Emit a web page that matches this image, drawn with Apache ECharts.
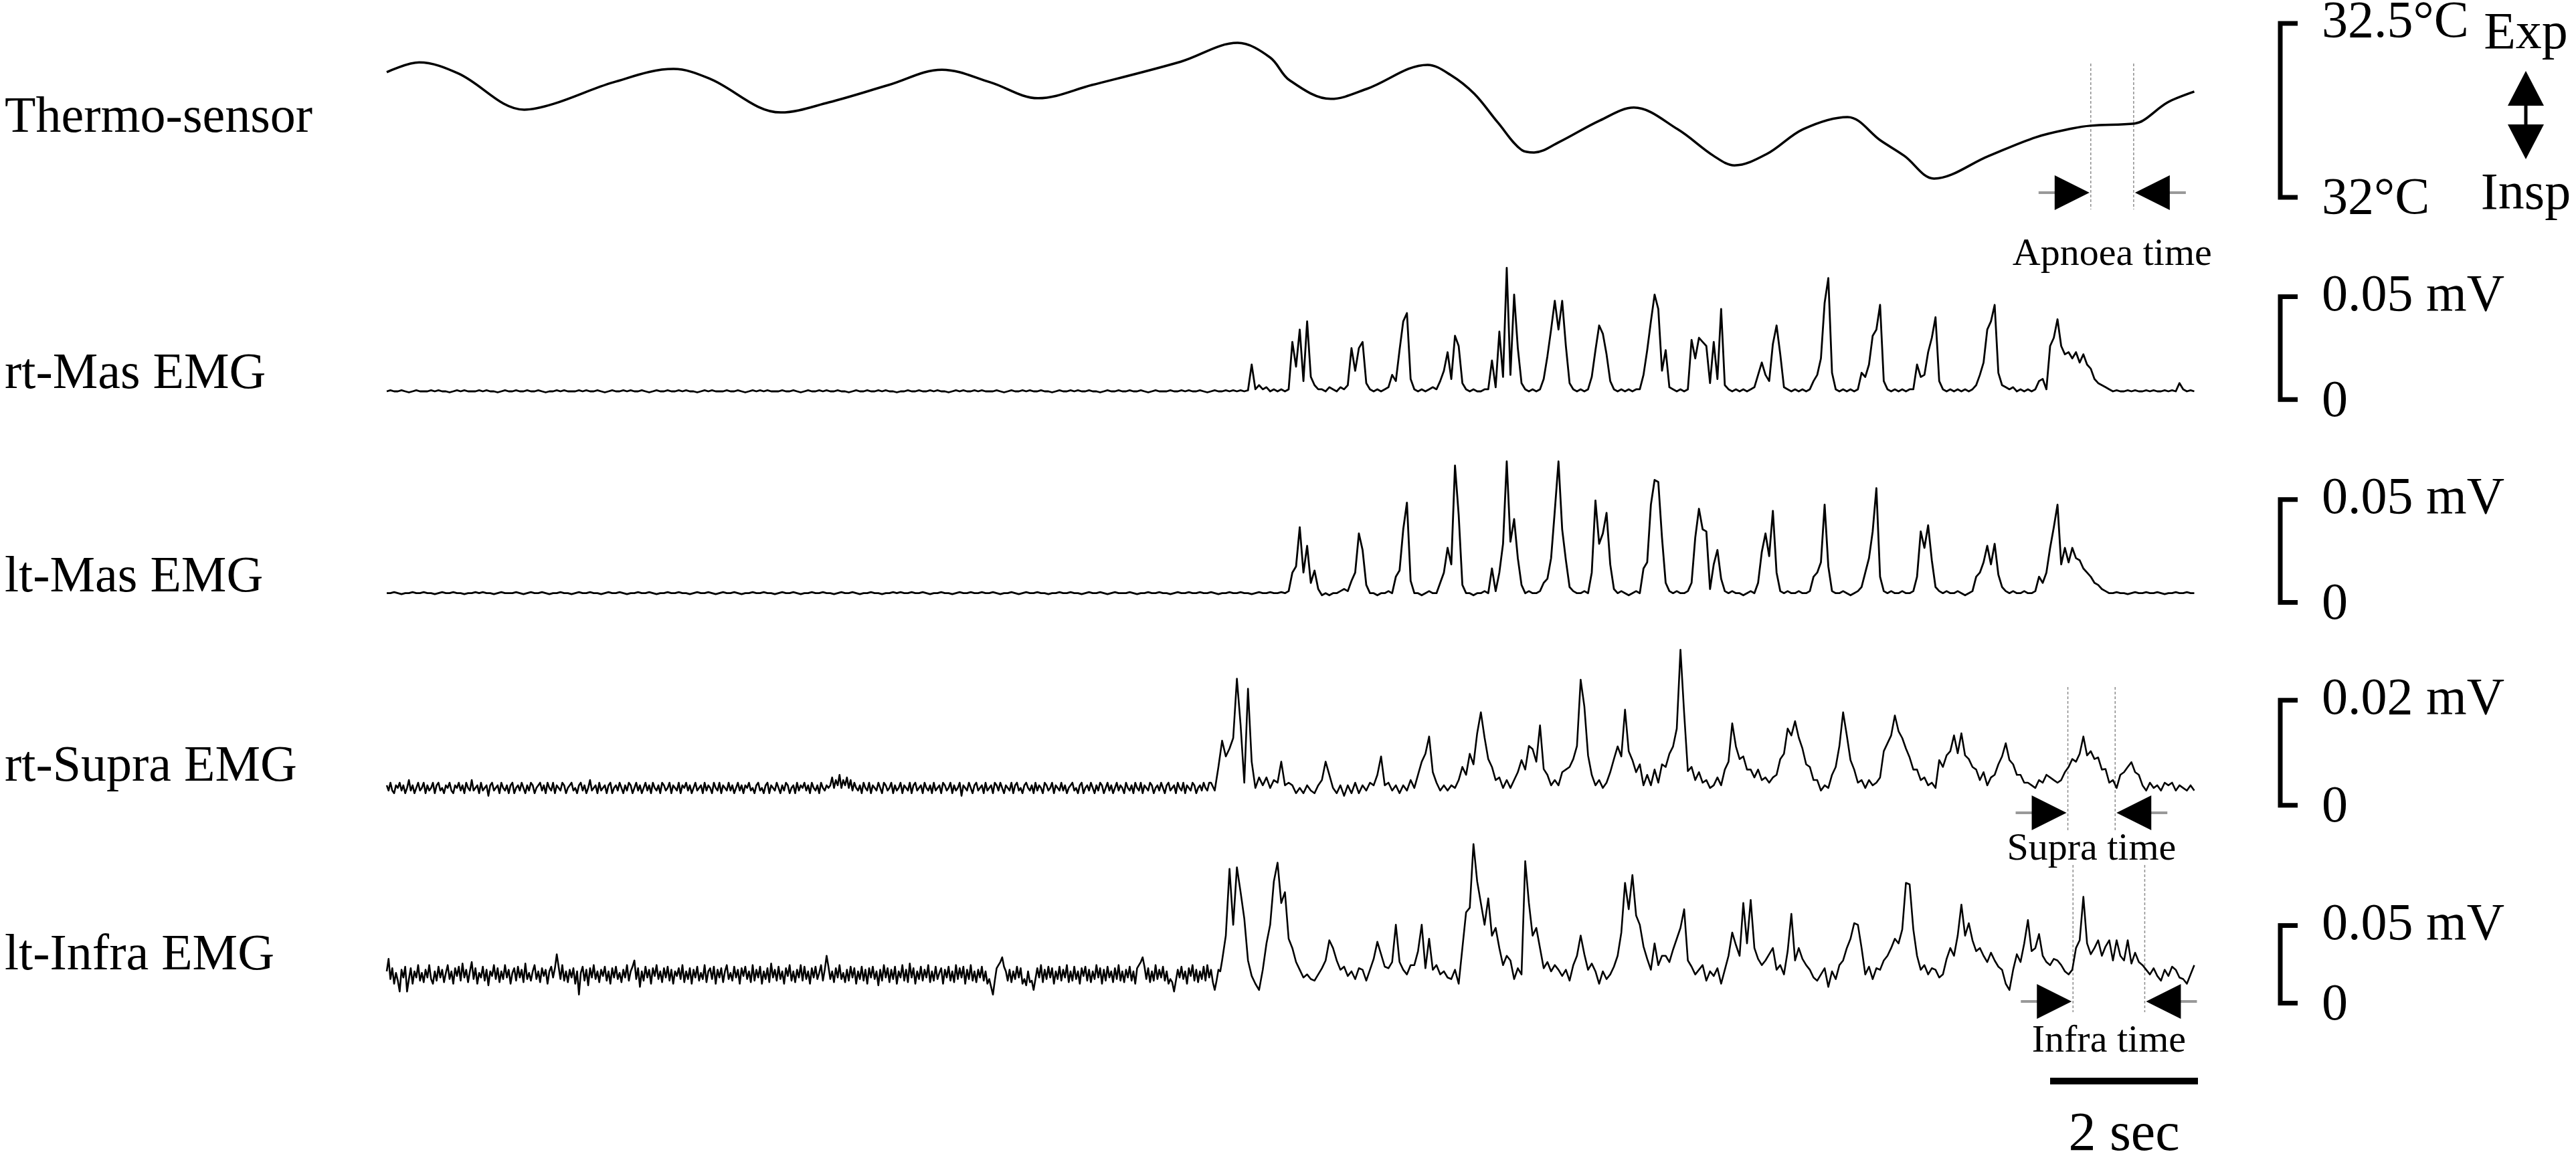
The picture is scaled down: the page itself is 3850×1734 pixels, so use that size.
<!DOCTYPE html>
<html>
<head>
<meta charset="utf-8">
<title>Thermo-sensor and EMG recording</title>
<script src="https://cdn.jsdelivr.net/npm/echarts@6/dist/echarts.min.js"></script>
<style>
html, body { margin: 0; padding: 0; background: #fff; }
#chart { width: 3850px; height: 1734px; }
</style>
</head>
<body>
<div id="chart"></div>
<script>
// sampling steps (sec) and shown time window
var DT = 0.05;        // masseter records, active part of supra/infra
var REST_DT = 0.025;  // resting part of supra/infra (finer, noisy)
var T_MAX = 24.5;

var traceNames = ['Thermo-sensor', 'rt-Mas EMG', 'lt-Mas EMG', 'rt-Supra EMG', 'lt-Infra EMG'];

// thermo-sensor : time (sec) / temperature (°C)
var thermoT = [0.00, 0.44, 0.97, 1.86, 2.26, 3.07, 3.88, 4.36, 5.33, 5.98, 6.79, 7.51, 8.16, 8.81, 9.54, 10.74,
  11.51, 11.95, 12.21, 12.77, 13.26, 14.08, 14.39, 14.71, 15.03, 15.36, 15.52, 15.85, 16.41, 16.87, 17.46,
  17.95, 18.23, 18.67, 19.16, 19.76, 20.21, 20.53, 20.93, 21.67, 22.31, 22.80, 23.05, 23.64, 23.76, 24.09, 24.45];
var thermoV = [32.360, 32.388, 32.356, 32.252, 32.269, 32.331, 32.369, 32.342, 32.244, 32.273, 32.323, 32.367,
  32.331, 32.285, 32.323, 32.390, 32.444, 32.402, 32.337, 32.283, 32.312, 32.381, 32.352, 32.298, 32.215,
  32.135, 32.129, 32.158, 32.221, 32.258, 32.196, 32.119, 32.092, 32.125, 32.196, 32.231, 32.163, 32.119,
  32.054, 32.119, 32.173, 32.198, 32.206, 32.212, 32.221, 32.273, 32.304];

// EMG amplitude in µV
var rtMas = [
  0,.5,0,0,.5,0,-.5,0,.5,0, 0,0,.5,0,.5,0,0,-.5,0,.5, 0,.5,0,0,0,.5,0,.5,0,0, -.5,0,.5,0,0,.5,0,0,.5,0,
  0,.5,0,-.5,0,0,.5,0,.5,0, 0,0,.5,0,.5,0,0,.5,0,-.5, 0,.5,0,0,.5,0,.5,0,0,.5, 0,-.5,0,.5,0,0,.5,0,0,.5,
  0,.5,0,0,-.5,0,.5,0,.5,0, 0,0,.5,0,0,.5,0,-.5,0,.5, 0,.5,0,.5,0,0,0,.5,0,0, .5,0,-.5,0,.5,0,0,.5,0,.5,
  0,0,.5,0,0,-.5,0,.5,0,0, .5,0,0,.5,0,.5,0,0,-.5,0, 0,.5,0,0,.5,0,0,.5,0,.5, 0,0,-.5,0,.5,0,.5,0,0,.5,
  0,.5,0,0,0,.5,0,-.5,0,.5, 0,0,.5,0,.5,0,0,.5,0,0, -.5,0,.5,0,0,.5,0,.5,0,0, .5,0,0,-.5,0,.5,0,0,.5,0,
  0,.5,0,0,.5,0,-.5,0,.5,0, 0,0,.5,0,0,.5,0,.5,0,0, .5,0,-.5,0,.5,0,0,.5,0,.5,
  0,.5,0,.5,13,1,3,1,2,0,1,0,1,0,1,
  24,12,30,5,34,7,3,1, 1,0,2,1,0,2,1,3, 21,10,21,24,4, 1,0,1,0,1,2,8, 5,20,34,38,6,1, 0,1,0,1,2,1,
  5,10,19,6,27,22,4, 1,0,1,0,0,1,1, 15,2,29,7,60,8,47,21,4,1, 0,1,0,1, 6,17,30,44,30,44,22,4,1, 0,1,0,1,
  7,20,32,28,18,5,1, 0,1,0,1,0,1,1, 8,20,34,47,40,10,20,2, 1,0,1,0,1, 25,16,26,24,22,4,24,6,40,3,1,
  0,1,0,1,0,1,2, 8,14,8,5,23,32,18,2, 1,0,1,0,1,0,1, 5,8,16,43,55,9,1, 0,1,0,1,0,1,
  9,7,13,27,30,42,5,1, 0,1,0,1,0,1,1, 13,7,8,19,26,36,5,1, 0,1,0,1,0,1,0,1,
  3,8,14,30,34,42,9,3,2,1,2, 0,1,0,1,0,1,
  5,6,1,22,26,35,22,18,19,16,19,14,18,13,11,6,4,3,2,1,
  0,.5,0,0,.5,0,.5,0,0,.5,0,.5,0,0,.5,0,.5,0, 4,1,0,.5,0
];

var ltMas = [
  0,0,.5,0,-.5,0,0,.5,0,0, .5,0,0,-.5,0,.5,0,0,.5,0, 0,-.5,0,0,.5,0,.5,0,0,-.5, 0,.5,0,0,0,.5,0,-.5,0,.5,
  0,0,.5,0,-.5,0,0,.5,0,0, -.5,0,.5,0,0,.5,0,0,-.5,0, .5,0,0,.5,0,-.5,0,0,.5,0, 0,.5,0,-.5,0,0,.5,0,0,.5,
  0,0,-.5,0,.5,0,0,.5,0,-.5, 0,.5,0,0,.5,0,-.5,0,0,.5, 0,0,.5,0,0,-.5,0,.5,0,0, .5,0,-.5,0,0,.5,0,0,.5,0,
  0,-.5,0,.5,0,0,.5,0,-.5,0, 0,.5,0,0,-.5,0,0,.5,0,.5, 0,0,.5,0,0,.5,0,-.5,0,0, .5,0,0,-.5,0,.5,0,0,.5,0,
  0,.5,0,0,.5,0,-.5,0,0,.5, 0,-.5,0,.5,0,0,.5,0,0,-.5, 0,0,.5,0,0,.5,0,0,-.5,0, .5,0,0,.5,0,-.5,0,.5,0,0,
  0,.5,0,-.5,0,0,.5,0,0,.5, 0,0,-.5,0,.5,0,0,.5,0,0, .5,0,0,.5,0,-.5,0,0,.5,0, 0,.5,0,0,-.5,0,.5,0,0,.5,
  0,0,.5,0,
  1, 10,13,32,10,23,5,11,2, -1,0,-1,0,0,1,2,1, 6,10,29,21,4,0, 0,-1,0,0,1,0, 8,11,31,44,6,0, 0,-1,0,1,0,0,
  5,10,22,14,62,38,4,0, 0,-1,0,0,1,0, 12,1,10,24,64,25,36,17,4, 0,1,0,0,1, 5,7,17,40,64,31,16,3,1, 0,0,1,0,
  10,45,24,29,39,14,2, 0,1,0,-1,0,1,0, 12,15,43,55,54,27,5,1, 0,1,0,0,1, 5,27,41,31,30,2,14,21,7,1,
  0,1,0,0,-1,0,1,0, 5,20,29,18,40,10,1, 0,1,0,0,1,0,0,1, 8,10,15,43,13,1, 0,0,1,0,-1,0,1,
  3,10,17,30,51,8,1, 0,1,0,0,1,0,0,1, 8,30,22,33,16,3,1, 0,1,0,0,1,0,-1,0,1,
  8,10,15,23,14,24,9,3,1, 0,1,0,0,1,0,0,1,
  8,5,10,22,32,43,14,22,15,22,17,16,12,10,8,5,4,2,1,0,
  0,.5,0,0,-.5,0,.5,0,0,.5,0,0,.5,0,-.5,0,0,.5,0,0,.5,0,0
];

// rt-Supra: resting part (REST_DT steps from 0 s), then active part (DT steps from 11.15 s)
var rtSupraRest = [
  0.5,-0.5,1,-0.5,-1,0.5,0,1,-0.5,0.5,-1,0,1.5,-0.5,0.5,-1,0,1,-0.5,0,
  1,-1,0.5,-0.5,0,1,-1,0.5,1,-0.5,0,-1,0.5,0,1,-0.5,-1,0.5,0,1,
  -0.5,0.5,-1,1,0,-0.5,1.5,-0.5,0,0.5,-1,1,-0.5,0,0.5,-1.5,0.5,1,-0.5,0,
  0.5,-1,1,0,-0.5,0.5,-1,0.5,1,-1,0,0.5,-0.5,1,0,-1,0.5,-0.5,1,0.5,
  -1,0,0.5,1,-0.5,0.5,-1,1,0,-0.5,1,-1,0.5,0,-0.5,1,0.5,-1,0,0.5,
  1,-0.5,0,-1,0.5,1,-0.5,0.5,-1,0,1.5,-0.5,0,0.5,-1,1,-0.5,0,0.5,-1,
  0.5,1,-1,0,0.5,-0.5,1,0,-1,0.5,-0.5,1,0.5,-1,0,1,-0.5,0.5,-1,0,
  1,-0.5,0.5,-1,1,0,-0.5,0.5,-1,1,0.5,-0.5,0,1,-1,0.5,0,-0.5,1,-1,
  0.5,0,1,-0.5,0.5,-1,0,1,-0.5,0,0.5,-1,1,-0.5,0.5,0,-1,1,0,-0.5,
  1,-1,0.5,0,-0.5,1,-0.5,0.5,-1,0,1,-0.5,0.5,-1,0.5,0,1,-0.5,0,-1,
  0.5,1,-0.5,0,-1,0.5,1,-1,0.5,0,-0.5,1,0,-1,0.5,-0.5,1,0.5,-1,0,
  0.5,-1,1,-0.5,0.5,0,1,-0.5,0.5,-1,1,0,-0.5,0.5,-1,1,0,-0.5,0.5,0,
  0.5,2,0,1.5,0.5,2.5,0,1.5,0.5,2,0,1.5,-0.5,1,0,-0.5,0.5,-1,1,0,
  -0.5,1,-1,0.5,0,-0.5,1,0,-1,1,0.5,-0.5,0,1,-1,0.5,-0.5,0,1,-1,
  0.5,0,-0.5,1,-1,0.5,1,-0.5,0,0.5,-1,1,0,-0.5,0.5,-1,1,-0.5,0,0.5,
  -1,1,0.5,-0.5,0,1,-1,0.5,-0.5,0,1,-1.5,0.5,0,-0.5,1,0,-1,0.5,1,
  -0.5,0,0.5,-1,1,-0.5,0,0.5,-1,1,0.5,-0.5,1,0,-1,0.5,0,-0.5,1,-1,
  0.5,1,-0.5,0,-1,0.5,1,0,-0.5,0.5,-1,1,-0.5,0.5,0,-1,1,0.5,-0.5,0,
  1,-1,0.5,0,-0.5,1,-0.5,0.5,-1,0,0.5,1,-0.5,0,-1,0.5,1,-1,0,0.5,
  -0.5,1,0,-1,0.5,-0.5,1,0.5,-1,0,1,-0.5,0.5,-1,0,1,-0.5,0.5,0,-1,
  1,0,-0.5,0.5,-1,1,0,-0.5,1,-1,0.5,0,-0.5,1,0.5,-1,0,0.5,-0.5,1,
  0,-1,0.5,1,-0.5,0,0.5,-1,1,0,-0.5,1,-1,0.5,0,-0.5,1,0.5,-1,0,
  0.5,-0.5,1,0,-0.5,1
];
var rtSupraBurstT0 = 11.15;
var rtSupraBurst = [
  1,-0.5,4,9,6,7.5,9.5,20.8,12,1,18.9,5,0,2,0.5,2,0,1.5,1,5,0.5,1,
  0.5,-1,0,-1,0.5,-0.5,-1,0.5,1.5,5, 2.5,0,-1,0.5,-1.5,0.5,-1,1,-1,0.5, -0.5,1,0.5,2.5,6,0.5,1,-0.5,0.5,-1,
  0.5,-0.5,1.5,0,2.5,5,6.5,9.8,3,1, -0.5,0.5,-0.5,0.5,0,1.5,4,2.5,6.5,4.5, 10.4,14.4,9.6,5.5,4,1.5,2,0,1.5,0,
  1.5,3,5.3,3.5,8,7.4,5,11.9,3.6,2.5, 0.5,1.5,0.5,3,3.5,4,5.5,8,20.6,15.5, 6.2,2.5,0.5,1.5,0,1,3,5.5,7.9,6,
  14.9,7,5.3,3,4.5,0.5,2.5,0.5,3.5,1, 4.5,4,6.5,7.9,11.3,26.3,14.2,3.2,4,1.5, 3,1,1.5,0,0.5,2,0.5,3.5,5,12.3,
  7.9,5.5,6,3.5,3.5,2,3.5,1.5,2,1, 2,2.5,5.5,6.5,11.3,10,12.7,9.6,7.5,4.5, 4,1.5,1.5,-0.5,0.5,0,2.5,4,8,14.4,
  10,5.3,3.5,1,1.5,0,1.5,0.5,1,2, 7,8.5,10,13.8,10.8,9.5,7.5,5.8,3.5,3.5, 1.5,2,0.5,1,0,5.3,4,6.2,7,10,
  6.6,10.4,6.2,5.5,4,3.5,1.5,3,0.5,2, 2.5,4.5,6,8.5,5.3,4.5,2.5,2.5,1,1, 0.5,0,1.5,1,2.5,2,1.5,1,1.5,3,
  4,5.5,5,6.5,9.8,6.2,7,5.5,5.8,3.5, 3.6,1,1.5,0,2.5,3,4,4.9,3,2.5, 0.5,-0.5,1,0,0.5,-0.5,1,0.5,1,-0.5,
  0.5,0,-0.5,0.5,-0.5
];

// lt-Infra: resting part (REST_DT steps from 0 s), then active part (DT steps from 11.3 s)
var ltInfraRest = [
  2,10,-3,4,-6,1,-4,-11,3,-2,5,-11,-3,4,-6,2,-2,6,-4,1,
  -5,3,-2,6,-3,-6,2,-4,5,-2,3,-5,1,6,-3,2,-6,4,-1,5,
  -4,7,-2,3,-5,2,8,-3,4,-6,1,-2,5,-4,3,-7,2,-1,6,-3,
  4,-5,2,-3,6,-2,3,-6,1,4,-4,5,-2,3,-5,7,-3,1,-4,2,
  6,-3,2,-5,4,-1,3,-6,2,5,-2,4,13,5,-3,6,-4,2,-5,3,
  -2,4,-6,2,-13,1,5,-4,3,-7,4,-2,6,-3,2,-5,3,-1,5,-4,
  2,-6,4,-2,5,-3,1,-5,3,-2,6,-4,2,5,9,-3,4,-8,2,-4,
  5,-2,3,-6,4,-1,6,-3,2,-5,4,-2,5,-4,3,-6,2,-1,4,-3,
  6,-5,2,-3,4,-6,3,-2,5,-4,1,-3,6,-5,2,4,-3,5,-6,3,
  -2,4,-5,2,6,-3,1,-4,5,-2,3,-6,4,-1,5,-3,2,-5,6,-4,
  3,-2,5,-6,2,-3,4,-5,7,-2,3,-4,5,-3,2,-6,4,-1,6,-4,
  2,-5,3,-2,6,-4,5,-3,2,-6,4,-2,5,-3,1,6,-4,3,12,5,
  -3,2,-5,4,-2,6,-3,1,-5,3,-4,5,-2,4,-6,2,-3,5,-4,3,
  -6,4,-2,5,-3,2,-7,3,-4,6,-2,4,-5,3,-3,5,-6,2,-2,6,
  -4,3,-5,7,-2,4,-6,2,-3,5,-4,3,-2,6,-5,2,-4,5,-3,1,
  4,-6,3,-2,5,-4,2,-5,6,-3,4,-2,5,-6,3,-3,6,-4,2,-5,
  3,-2,5,-4,2,-6,-3,-8,-13,-4,4,6,8,11,5,2,-4,3,-5,2,
  -3,5,-2,4,-6,-3,-7,2,-5,-4,-10,-3,4,-2,6,-5,3,-3,5,-2,
  4,-6,2,-3,5,-4,3,-2,6,-5,2,-4,5,-3,2,-6,4,-1,5,-4,
  3,-5,2,-3,6,-2,4,-6,3,-4,5,-2,2,-5,4,-3,6,-4,2,-5,
  3,-2,5,-4,2,-6,4,6,8,11,5,-3,4,-5,2,-4,6,-3,3,-2,
  5,-4,2,-6,-3,-5,-11,-4,3,-2,5,-3,2,-6,4,-1,6,-4,3,-5,
  2,-3,5,-4,6,-2,3,-5,-10,-4,3,2
];
var ltInfraBurstT0 = 11.3;
var ltInfraBurst = [
  9,25,68,32,69,53,36,9,-1,-6, -10,3,20,32,60,72,46,53,23,17, 8,3,-2,0,-3,-4,0,4,9,22,
  17,9,3,5,-1,2,-3,4,3,-4, 3,10,21,13,5,4,8,32,8,3, 0,6,6,15,32,4,23,3,6,0,
  2,-2,-3,3,-6,17,40,43,84,60, 46,32,49,25,30,17,6,12,9,-3, 4,0,73,46,25,30,17,4,8,2,
  6,3,-1,3,-4,6,12,25,13,3, 7,2,-6,2,-3,0,5,12,27,59, 42,64,38,32,18,10,3,20,6,12,
  12,8,16,23,30,42,9,5,0,3, 6,-4,2,-1,4,-6,3,12,27,19, 12,46,20,48,17,10,6,9,13,17,
  3,6,0,15,39,9,17,10,6,3, -2,-4,0,4,-8,2,-3,6,9,17, 23,33,32,17,0,5,-3,4,3,9,
  12,17,23,20,29,59,58,29,12,3, 6,0,4,3,-2,0,10,17,12,25, 45,25,33,22,15,17,12,8,14,9,
  5,3,-6,-10,3,13,8,20,35,15, 17,26,12,8,6,10,9,6,2,0, 3,17,22,50,20,13,17,22,12,18,
  22,9,22,12,9,22,7,14,8,6, 3,0,4,-1,-4,3,-1,5,3,-2, -3,-6,0,6
];

// calibration brackets (same units as each trace) and their labels
var calSpan = [0.5, 50, 50, 20, 50];
var calTop = ['32.5°C', '0.05 mV', '0.05 mV', '0.02 mV', '0.05 mV'];
var calBottom = ['32°C', '0', '0', '0', '0'];

// marked intervals (sec)
var apnoeaTime = [23.05, 23.63];
var supraTime = [22.74, 23.38];
var infraTime = [22.81, 23.78];
var timeBar = [22.5, 24.5];   // 2 sec

var FONT = '"Liberation Serif", "Times New Roman", serif';

// layout of the five strips
var panels = [
  { top: 35, height: 260, min: 32.0, max: 32.5, labelY: 177, calBase: 32.0, width: 3.5 },
  { top: 369.6, height: 240, min: -8, max: 70, labelY: 560, calBase: -4, width: 2.8 },
  { top: 671.3, height: 240, min: -8, max: 70, labelY: 864, calBase: -4.5, width: 2.8 },
  { top: 958, height: 243.4, min: -3, max: 28, labelY: 1147, calBase: -3.3, width: 2.6 },
  { top: 1247.8, height: 243.6, min: -15, max: 90, labelY: 1429, calBase: -18.5, width: 2.6 }
];

function toPairs(arr, step, t0) {
  return arr.map(function (v, i) { return [+((t0 || 0) + i * step).toFixed(3), v]; });
}

var traces = [
  thermoT.map(function (t, i) { return [t, thermoV[i]]; }),
  toPairs(rtMas, DT),
  toPairs(ltMas, DT),
  toPairs(rtSupraRest, REST_DT).concat(toPairs(rtSupraBurst, DT, rtSupraBurstT0)),
  toPairs(ltInfraRest, REST_DT).concat(toPairs(ltInfraBurst, DT, ltInfraBurstT0))
];

var option = {
  animation: false,
  backgroundColor: '#ffffff',
  grid: panels.map(function (p) {
    return { left: 578, right: 565, top: p.top, height: p.height };
  }),
  xAxis: panels.map(function (p, k) {
    return { type: 'value', gridIndex: k, min: 0, max: T_MAX, show: false };
  }),
  yAxis: panels.map(function (p, k) {
    return { type: 'value', gridIndex: k, min: p.min, max: p.max, show: false };
  }),
  series: traces.map(function (d, k) {
    return {
      type: 'line', xAxisIndex: k, yAxisIndex: k, data: d,
      showSymbol: false, symbol: 'none', silent: true, clip: false,
      smooth: k === 0 ? 0.35 : false,
      lineStyle: { color: '#000', width: panels[k].width, join: 'round' }
    };
  })
};

var chart = echarts.init(document.getElementById('chart'));
chart.setOption(option);

function px(k, t, v) {
  return chart.convertToPixel({ gridIndex: k }, [t, v]);
}

function txt(x, y, s, size, align) {
  return {
    type: 'text', x: x, y: y, silent: true,
    style: { text: s, font: size + 'px ' + FONT, fill: '#000', align: align || 'left', verticalAlign: 'middle' }
  };
}

var g = [];

// trace names + calibration brackets
panels.forEach(function (p, k) {
  g.push(txt(7, p.labelY, traceNames[k], 76));
  var yLo = px(k, 0, p.calBase)[1];
  var yHi = px(k, 0, p.calBase + calSpan[k])[1];
  g.push({
    type: 'polyline', silent: true,
    shape: { points: [[3434, yHi], [3408, yHi], [3408, yLo], [3434, yLo]] },
    style: { stroke: '#000', lineWidth: 7, fill: null, lineJoin: 'miter' }
  });
  g.push(txt(3470, yHi, calTop[k], 78));
  g.push(txt(3470, yLo + 4, calBottom[k], 78));
});

// Exp / Insp double arrow
g.push(txt(3775, 52, 'Exp', 78, 'center'));
g.push({ type: 'polygon', silent: true, shape: { points: [[3775, 106], [3748, 158], [3802, 158]] }, style: { fill: '#000' } });
g.push({ type: 'line', silent: true, shape: { x1: 3775, y1: 156, x2: 3775, y2: 188 }, style: { stroke: '#000', lineWidth: 5 } });
g.push({ type: 'polygon', silent: true, shape: { points: [[3775, 238], [3748, 186], [3802, 186]] }, style: { fill: '#000' } });
g.push(txt(3775, 292, 'Insp', 78, 'center'));

// dotted interval markers with arrows
function addInterval(k, times, y0, y1, ay, label, ly) {
  var xa = px(k, times[0], 0)[0];
  var xb = px(k, times[1], 0)[0];
  [xa, xb].forEach(function (x) {
    g.push({ type: 'line', silent: true, shape: { x1: x, y1: y0, x2: x, y2: y1 },
      style: { stroke: '#8c8c8c', lineWidth: 1.5, lineDash: [4, 3] } });
  });
  g.push({ type: 'line', silent: true, shape: { x1: xa - 78, y1: ay, x2: xa - 40, y2: ay }, style: { stroke: '#999', lineWidth: 4 } });
  g.push({ type: 'line', silent: true, shape: { x1: xb + 40, y1: ay, x2: xb + 78, y2: ay }, style: { stroke: '#999', lineWidth: 4 } });
  g.push({ type: 'polygon', silent: true, shape: { points: [[xa - 2, ay], [xa - 54, ay - 26], [xa - 54, ay + 26]] }, style: { fill: '#000' } });
  g.push({ type: 'polygon', silent: true, shape: { points: [[xb + 2, ay], [xb + 54, ay - 26], [xb + 54, ay + 26]] }, style: { fill: '#000' } });
  g.push(txt((xa + xb) / 2, ly, label, 58, 'center'));
}
addInterval(0, apnoeaTime, 95, 313, 288, 'Apnoea time', 381);
addInterval(3, supraTime, 1027, 1243, 1215, 'Supra time', 1270);
addInterval(4, infraTime, 1293, 1513, 1497, 'Infra time', 1557);

// 2 sec time bar
var xs = px(4, timeBar[0], 0)[0];
var xe = px(4, timeBar[1], 0)[0];
g.push({ type: 'line', silent: true, shape: { x1: xs, y1: 1616, x2: xe, y2: 1616 }, style: { stroke: '#000', lineWidth: 10 } });
g.push(txt((xs + xe) / 2, 1697, (timeBar[1] - timeBar[0]) + ' sec', 82, 'center'));

chart.setOption({ graphic: g });
</script>
</body>
</html>
